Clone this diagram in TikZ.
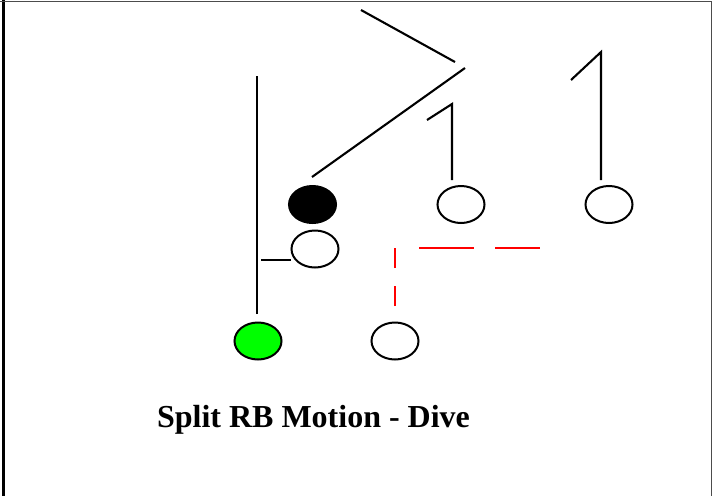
\documentclass[tikz,border=0pt]{standalone}
\usepackage{fontspec}
\setmainfont{Liberation Serif}
\usetikzlibrary{positioning,shapes.geometric}

\begin{document}
\begin{tikzpicture}[
    x=1pt, y=-1pt,
    player/.style={draw, ellipse, line width=2pt, fill=white,
                   minimum width=47pt, minimum height=37pt, inner sep=0pt},
    route/.style={line width=2.1pt},
    motion/.style={line width=2.6pt, red},
    caption/.style={font=\bfseries\fontsize{32}{38}\selectfont, anchor=base}
]
  \useasboundingbox (0,0) rectangle (712,496);
  \draw[line width=2.8pt] (3.5,0) -- (3.5,496);
  \draw[line width=0.8pt, black!70] (0,1) -- (711,1) -- (711,496);

  \node[player, fill=black] (qb) at (312.5,204.5) {};
  \node[player] (slot) at (461,204.5) {};
  \node[player] (wide) at (609,204.5) {};
  \node[player] (back) at (315,249) {};
  \node[player, fill=green] (rb) at (258,341) {};
  \node[player] (fb) at (395,341) {};

  \coordinate (rbA) at (257,314);  \coordinate (rbB) at (257,76);
  \coordinate (bkA) at (291,260);  \coordinate (bkB) at (261,260);
  \coordinate (qbA) at (312,177);  \coordinate (qbB) at (465,68);
  \coordinate (qbC) at (455,62);   \coordinate (qbD) at (361,10);
  \coordinate (slA) at (452,180);  \coordinate (slB) at (452,104);
  \coordinate (slC) at (427,120);
  \coordinate (wdA) at (601,180);  \coordinate (wdB) at (601,52);
  \coordinate (wdC) at (571,80);
  \coordinate (fbA) at (395,306);  \coordinate (fbB) at (395,248);
  \coordinate (fbC) at (419,248);  \coordinate (fbD) at (540,248);

  \draw[route] (rbA) -- (rbB);
  \draw[route] (bkA) -- (bkB);
  \draw[route] (qbA) -- (qbB);
  \draw[route] (qbC) -- (qbD);
  \draw[route] (slA) -- (slB) -- (slC);
  \draw[route] (wdA) -- (wdB) -- (wdC);
  \draw[motion, dash pattern=on 20pt off 18pt] (fbA) -- (fbB);
  \draw[motion, dash pattern=on 55pt off 21pt] (fbC) -- (fbD);

  \node[caption] (title) at (313.5,427) {Split RB Motion - Dive};
\end{tikzpicture}
\end{document}
